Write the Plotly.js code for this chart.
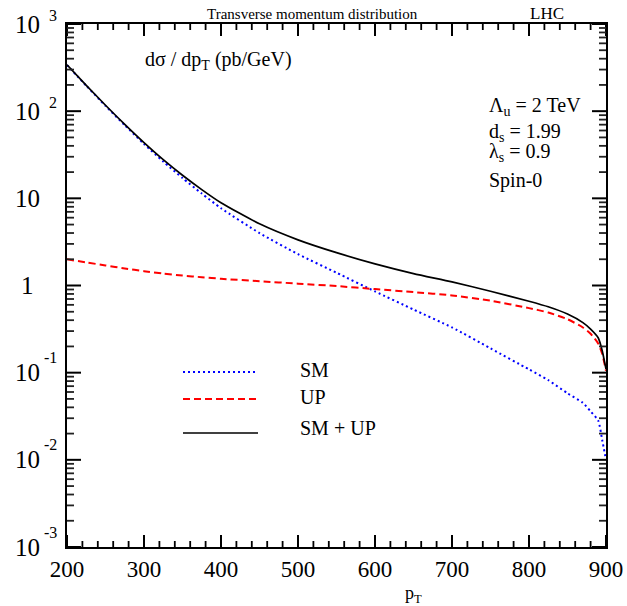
<!DOCTYPE html>
<html>
<head>
<meta charset="utf-8">
<script src="https://cdn.plot.ly/plotly-3.0.1.min.js"></script>
<style>html,body{margin:0;padding:0;background:#fff;}#chart{width:627px;height:606px;}</style>
</head>
<body>
<div id="chart"></div>
<script>
// ---- data ----
const pT   = [200,225,250,275,300,325,350,375,400,450,500,550,600,650,700,750,800,825,850,870,880,890,895,900];
const sm   = [338,196,115,69,42.1,26.4,17.1,11.35,7.7,4.0,2.29,1.40,0.855,0.53,0.33,0.19,0.109,0.082,0.058,0.045,0.036,0.028,0.017,0.010];
const up   = [2.00,1.84,1.70,1.57,1.46,1.37,1.30,1.245,1.195,1.12,1.05,0.985,0.91,0.84,0.77,0.67,0.55,0.49,0.41,0.33,0.28,0.215,0.165,0.105];
const smup = [340,198,117,70.6,43.6,27.8,18.4,12.6,8.9,5.1,3.34,2.38,1.77,1.37,1.10,0.86,0.66,0.57,0.47,0.375,0.316,0.25,0.18,0.11];

const xTickVals = [200,300,400,500,600,700,800,900];
const yTickVals = [0.001,0.01,0.1,1,10,100,1000];
const yTickBase = ["10","10","10","1","10","10","10"];
const yTickExp  = ["-3","-2","-1","","","2","3"];

const seriesNames = ["SM","UP","SM + UP"];

const FONT = "Liberation Serif, Times New Roman, serif";
const L = 67, R = 606, T = 24, B = 547;
const X = p => (p - L) / (R - L);
const Y = p => (B - p) / (B - T);

const traces = [
  {x: pT, y: sm, mode: 'lines', name: seriesNames[0], line: {color: '#0000ff', width: 2, dash: '2px,3px', shape: 'spline', smoothing: 0.6}},
  {x: pT, y: up, mode: 'lines', name: seriesNames[1], line: {color: '#ff0000', width: 2, dash: '7px,4px', shape: 'spline', smoothing: 0.6}},
  {x: pT, y: smup, mode: 'lines', name: seriesNames[2], line: {color: '#000000', width: 1.7, shape: 'spline', smoothing: 0.6}}
];

const annotations = [];
const txt = (text, x, y, size, xanchor) => ({
  text: text, xref: 'paper', yref: 'paper', x: x, y: y, showarrow: false,
  xanchor: xanchor || 'left', yanchor: 'middle', font: {family: FONT, size: size, color: '#000'}
});

annotations.push(txt('Transverse momentum distribution', X(205), Y(14), 15));
annotations.push(txt('LHC', X(528), Y(14), 17));
annotations.push(txt('d\u03c3 / dp<sub>T</sub> (pb/GeV)', X(143), Y(60), 20));
annotations.push(txt('\u039b<sub>u</sub> = 2 TeV', X(487), Y(106), 20));
annotations.push(txt('d<sub>s</sub> = 1.99', X(487), Y(132), 20));
annotations.push(txt('\u03bb<sub>s</sub> = 0.9', X(487), Y(152), 20));
annotations.push(txt('Spin-0', X(487), Y(180), 20));
annotations.push(txt('p<sub>T</sub>', X(413), Y(594), 18, 'center'));

// y tick labels (base + exponent) placed on the log axis
yTickVals.forEach((v, i) => {
  annotations.push({text: yTickBase[i], xref: 'paper', yref: 'y', x: X(27), y: Math.log10(v),
    showarrow: false, xanchor: 'center', yanchor: 'middle', font: {family: FONT, size: 25, color: '#000'}});
  if (yTickExp[i]) {
    annotations.push({text: yTickExp[i], xref: 'paper', yref: 'y', x: X(59), y: Math.log10(v),
      yshift: yTickExp[i][0] === '-' ? 15 : 9,
      showarrow: false, xanchor: 'right', yanchor: 'middle', font: {family: FONT, size: 16, color: '#000'}});
  }
});

const shapes = [];

// legend (drawn manually)
const legY = [372, 399, 433];
const legTY = [370, 397, 428];
traces.forEach((t, i) => {
  shapes.push({type: 'line', xref: 'paper', yref: 'paper', x0: X(183), x1: X(258), y0: Y(legY[i]), y1: Y(legY[i]),
    line: {color: t.line.color, width: t.line.width, dash: t.line.dash}});
  annotations.push(txt(seriesNames[i], X(298), Y(legTY[i]), 20));
});

// tick marks drawn on all four sides, positioned by the axes
const xMinor = [];
for (let v = 220; v < 900; v += 20) if (v % 100 !== 0) xMinor.push(v);
const yMinor = [];
for (let d = -3; d < 3; d++) for (let k = 2; k <= 9; k++) yMinor.push(k * Math.pow(10, d));

const xTick = (v, len, col, w) => {
  shapes.push({type: 'line', xref: 'x', yref: 'paper', ysizemode: 'pixel', yanchor: 0, x0: v, x1: v, y0: 0, y1: len, line: {color: col, width: w}});
  shapes.push({type: 'line', xref: 'x', yref: 'paper', ysizemode: 'pixel', yanchor: 1, x0: v, x1: v, y0: 0, y1: -len, line: {color: col, width: w}});
};
const yTick = (v, len, col, w) => {
  shapes.push({type: 'line', xref: 'paper', yref: 'y', xsizemode: 'pixel', xanchor: 0, y0: v, y1: v, x0: 0, x1: len, line: {color: col, width: w}});
  shapes.push({type: 'line', xref: 'paper', yref: 'y', xsizemode: 'pixel', xanchor: 1, y0: v, y1: v, x0: 0, x1: -len, line: {color: col, width: w}});
};
xTickVals.forEach(v => xTick(v, 12, '#000', 2));
xMinor.forEach(v => xTick(v, 6, '#000', 1.8));
yTickVals.forEach(v => yTick(v, 14, '#000', 2));
yMinor.forEach(v => yTick(v, 7, '#222', 1.8));

const layout = {
  width: 627, height: 606,
  margin: {l: L, r: 627 - R, t: T, b: 606 - B},
  paper_bgcolor: '#fff', plot_bgcolor: '#fff',
  showlegend: false,
  font: {family: FONT, color: '#000'},
  xaxis: {
    range: [200, 900], tickmode: 'array', tickvals: xTickVals,
    showline: true, linecolor: '#000', linewidth: 2, mirror: true,
    ticks: '', showgrid: false, zeroline: false,
    tickfont: {family: FONT, size: 23, color: '#000'}
  },
  yaxis: {
    type: 'log', range: [-3, 3], tickmode: 'array', tickvals: yTickVals, showticklabels: false,
    showline: true, linecolor: '#000', linewidth: 2, mirror: true,
    ticks: '', showgrid: false, zeroline: false
  },
  annotations: annotations,
  shapes: shapes
};

Plotly.newPlot('chart', traces, layout, {displayModeBar: false});
</script>
</body>
</html>
